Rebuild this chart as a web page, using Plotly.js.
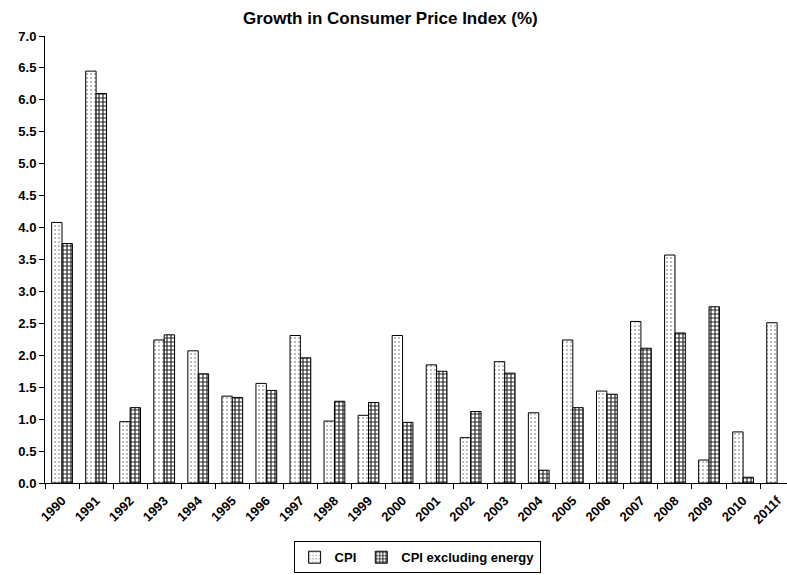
<!DOCTYPE html>
<html>
<head>
<meta charset="utf-8">
<script src="https://cdn.plot.ly/plotly-3.0.1.min.js"></script>
<style>html,body{margin:0;padding:0;background:#fff;}#chart{width:787px;height:575px;}</style>
</head>
<body>
<div id="chart"></div>
<script>
const years = ["1990","1991","1992","1993","1994","1995","1996","1997","1998","1999","2000","2001","2002","2003","2004","2005","2006","2007","2008","2009","2010","2011f"];
const cpi = [4.08,6.45,0.96,2.24,2.07,1.36,1.56,2.31,0.97,1.06,2.31,1.85,0.71,1.90,1.10,2.24,1.44,2.53,3.57,0.36,0.80,2.51];
const cpiExEnergy = [3.75,6.10,1.18,2.32,1.71,1.34,1.45,1.96,1.28,1.26,0.95,1.75,1.12,1.72,0.20,1.18,1.39,2.11,2.35,2.76,0.09,null];
const yTicks = [0,0.5,1,1.5,2,2.5,3,3.5,4,4.5,5,5.5,6,6.5,7];

const F = "Liberation Sans, Arial, sans-serif";
const traces = [
  {type:"bar", name:"CPI", x:years, y:cpi,
   marker:{color:"#ffffff", line:{color:"#000", width:1},
     pattern:{shape:".", fgcolor:"#aaa", bgcolor:"#fff", size:4, solidity:0.2}}},
  {type:"bar", name:"CPI excluding energy", x:years, y:cpiExEnergy,
   marker:{color:"#ffffff", line:{color:"#000", width:1},
     pattern:{shape:"+", fgcolor:"#222", bgcolor:"#fff", size:4, solidity:0.5}}}
];
const layout = {
  width:787, height:575,
  margin:{l:45, r:0, t:36, b:92},
  paper_bgcolor:"#fff", plot_bgcolor:"#fff",
  font:{family:F, color:"#000", size:12, weight:"bold"},
  title:{text:"Growth in Consumer Price Index (%)", font:{family:F, size:17, weight:"bold", color:"#000"},
    x:0.496, xref:"container", y:0.968, yref:"container", xanchor:"center", yanchor:"middle"},
  barmode:"group", bargap:0.39, bargroupgap:0,
  xaxis:{type:"category", range:[-0.5,21.29], showline:true, linecolor:"#000", linewidth:1,
    ticks:"outside", ticklen:5, tickcolor:"#000", tickson:"boundaries", ticklabelstandoff:4,
    tickangle:-45, tickfont:{family:F, size:13, weight:"bold"}, showgrid:false, zeroline:false},
  yaxis:{range:[0,7], tickvals:yTicks, tickformat:".1f", showline:true, linecolor:"#000", linewidth:1,
    ticks:"outside", ticklen:5, tickcolor:"#000", showgrid:false, zeroline:false,
    tickfont:{family:F, size:13, weight:"bold"}},
  showlegend:true,
  legend:{orientation:"h", x:0.53, xref:"container", y:0.003, yref:"container", xanchor:"center", yanchor:"bottom",
    bordercolor:"#000", borderwidth:1, font:{family:F, size:13, weight:"bold"},
    itemwidth:30, tracegroupgap:0}
};
Plotly.newPlot("chart", traces, layout, {staticPlot:true, displayModeBar:false});
</script>
</body>
</html>
